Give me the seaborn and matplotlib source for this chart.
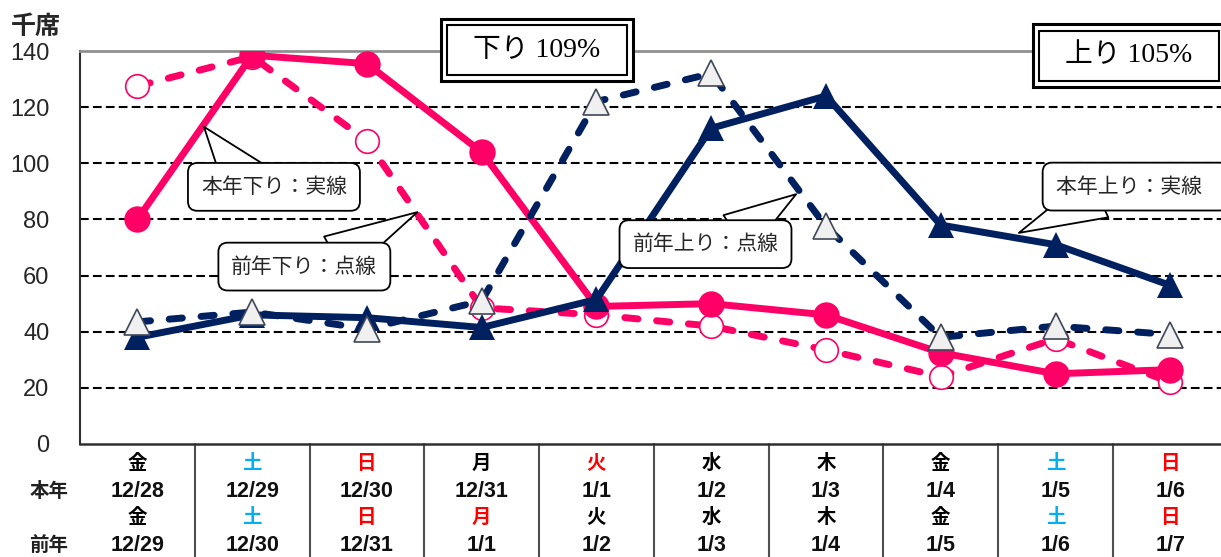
import numpy as np
import pandas as pd
import matplotlib
matplotlib.use("Agg")
import matplotlib.pyplot as plt
import matplotlib.transforms as mtrans
import seaborn as sns

# Data (thousand seats)
days_this = ["金", "土", "日", "月", "火", "水", "木", "金", "土", "日"]
dates_this = ["12/28", "12/29", "12/30", "12/31", "1/1", "1/2", "1/3", "1/4", "1/5", "1/6"]
days_prev = ["金", "土", "日", "月", "火", "水", "木", "金", "土", "日"]
dates_prev = ["12/29", "12/30", "12/31", "1/1", "1/2", "1/3", "1/4", "1/5", "1/6", "1/7"]
day_colors_this = ["k", "#00B0F0", "#FF0000", "k", "#FF0000", "k", "k", "k", "#00B0F0", "#FF0000"]
day_colors_prev = ["k", "#00B0F0", "#FF0000", "#FF0000", "k", "k", "k", "k", "#00B0F0", "#FF0000"]

down_this = [80, 138.5, 135.5, 104, 49, 50, 46, 32.5, 25, 26.5]
down_prev = [127.5, 138, 108, 48.5, 46, 42, 33.5, 24, 37.5, 22]
up_this = [38, 46, 45, 41.5, 51.5, 112.5, 124, 78, 71, 56.5]
up_prev = [43.5, 47, 41, 51, 122, 132, 77.5, 38, 42, 39]

yticks = [0, 20, 40, 60, 80, 100, 120, 140]

pos = np.arange(len(dates_this))
df = pd.DataFrame({"pos": pos, "down_this": down_this, "down_prev": down_prev,
                   "up_this": up_this, "up_prev": up_prev})

PINK = "#FF0066"
NAVY = "#002060"
SANS = ["Liberation Sans", "Noto Sans CJK JP", "DejaVu Sans"]

sns.set_style("white")
plt.rcParams["font.family"] = SANS

fig = plt.figure(figsize=(12.21, 5.57), dpi=100)
ax = fig.add_axes([0.0655, 0.2029, 0.940, 0.7055])

# gridlines
for yv in yticks[1:-1]:
    gl = ax.axhline(yv, color="black", lw=1.5, zorder=1)
    gl.set_dashes([4.2, 2])

# last year down (dashed, open circles)
sns.lineplot(data=df, x="pos", y="down_prev", ax=ax, color=PINK, lw=5,
             linestyle="--", marker="o", ms=17, mfc="white", mec=PINK, mew=1.2,
             zorder=3)
ax.lines[-1].set_dashes([1.9, 2.7])
ax.lines[-1].set_dash_capstyle("round")

# this year down (solid, filled circles)
sns.lineplot(data=df, x="pos", y="down_this", ax=ax, color=PINK, lw=5,
             marker="o", ms=19, mfc=PINK, mec=PINK, mew=0, zorder=4)

# this year up (solid, filled triangles)
sns.lineplot(data=df, x="pos", y="up_this", ax=ax, color=NAVY, lw=5,
             marker="^", ms=19, mfc=NAVY, mec=NAVY, mew=0, zorder=5)

# last year up (dashed, grey triangles)
sns.lineplot(data=df, x="pos", y="up_prev", ax=ax, color=NAVY, lw=5,
             linestyle="--", marker="^", ms=19, mfc="#F0F0F0", mec="#404858",
             mew=1.2, zorder=6)
ax.lines[-1].set_dashes([1.9, 2.7])
ax.lines[-1].set_dash_capstyle("round")

ax.set_xlim(-0.5, len(pos) - 0.5)
ax.set_ylim(0, 140)
ax.set_yticks(yticks)
ax.set_yticklabels([str(v) for v in yticks], fontsize=17)
ax.tick_params(axis="y", length=0, pad=22)
ax.set_xticks(pos)
ax.set_xticklabels([])
ax.tick_params(axis="x", length=0)
ax.set_xticks(pos[:-1] + 0.5, minor=True)
ax.tick_params(axis="x", which="minor", direction="in", length=6, width=1.2, color="#404040")
ax.set_xlabel("")
ax.set_ylabel("")

ax.spines["right"].set_visible(False)
ax.spines["top"].set_color("#909090")
ax.spines["top"].set_linewidth(2)
ax.spines["left"].set_color("#303030")
ax.spines["left"].set_linewidth(1.5)
ax.spines["bottom"].set_color("#303030")
ax.spines["bottom"].set_linewidth(1.8)

fig.text(0.029, 0.951, "千席", fontsize=18, ha="center", va="center", fontweight="bold")

# x-axis table
trans = mtrans.blended_transform_factory(ax.transData, ax.transAxes)
for b in pos[:-1] + 0.5:
    ax.plot([b, b], [0, -0.30], transform=trans, color="#505050", lw=1.5, clip_on=False)

row_y = [-0.050, -0.122, -0.188, -0.259]
for i in pos:
    ax.text(i, row_y[0], days_this[i], transform=trans, ha="center", va="center",
            fontsize=14, color=day_colors_this[i], fontweight="bold")
    ax.text(i, row_y[1], dates_this[i], transform=trans, ha="center", va="center",
            fontsize=15.5, color="#101010", fontweight="bold")
    ax.text(i, row_y[2], days_prev[i], transform=trans, ha="center", va="center",
            fontsize=14, color=day_colors_prev[i], fontweight="bold")
    ax.text(i, row_y[3], dates_prev[i], transform=trans, ha="center", va="center",
            fontsize=15.5, color="#101010", fontweight="bold")
ax.text(-0.77, row_y[1], "本年", transform=trans, ha="center", va="center",
        fontsize=14, fontweight="bold", color="#202020")
ax.text(-0.77, row_y[3], "前年", transform=trans, ha="center", va="center",
        fontsize=14, fontweight="bold", color="#202020")

# callouts
callouts = [
    ("本年下り：実線", (1.19, 91.6), (0.58, 113), (0.29, 0.95), "center"),
    ("前年下り：点線", (1.455, 63.2), (2.44, 82.6), (0.71, 0.95), "center"),
    ("前年上り：点線", (4.95, 71.2), (5.74, 89), (0.71, 0.95), "center"),
    ("本年上り：実線   ", (8.0, 91.7), (7.68, 75.2), (0.27, 0.05), "left"),
]
for txt, xyt, xy, rp, ha in callouts:
    ax.annotate(txt, xy=xy, xytext=xyt, ha=ha, va="center", fontsize=15,
                zorder=8, family=["Noto Sans CJK JP"], annotation_clip=False,
                bbox=dict(boxstyle="round,pad=0.62,rounding_size=0.45", fc="white",
                          ec="black", lw=1.3),
                arrowprops=dict(arrowstyle="wedge,tail_width=2.2,shrink_factor=0.5",
                                fc="white", ec="black", lw=1.3, relpos=rp,
                                patchA=None, shrinkA=0, shrinkB=0))

# ratio boxes with double border
ratio_boxes = [("下り 109%", (3.48, 140.3)), ("上り 105%", (8.64, 138.4))]
for txt, (bx, by) in ratio_boxes:
    for pad, lw, z in [(0.67, 2.2, 9), (0.45, 1.5, 10)]:
        ax.text(bx, by, "  " + txt + "  ", ha="center", va="center", fontsize=20,
                family=["Liberation Serif", "Noto Sans CJK JP"],
                color="black" if z == 10 else "none", zorder=z, clip_on=False,
                bbox=dict(boxstyle=f"square,pad={pad}", fc="white", ec="black", lw=lw))

fig.savefig("out.png", dpi=100)
